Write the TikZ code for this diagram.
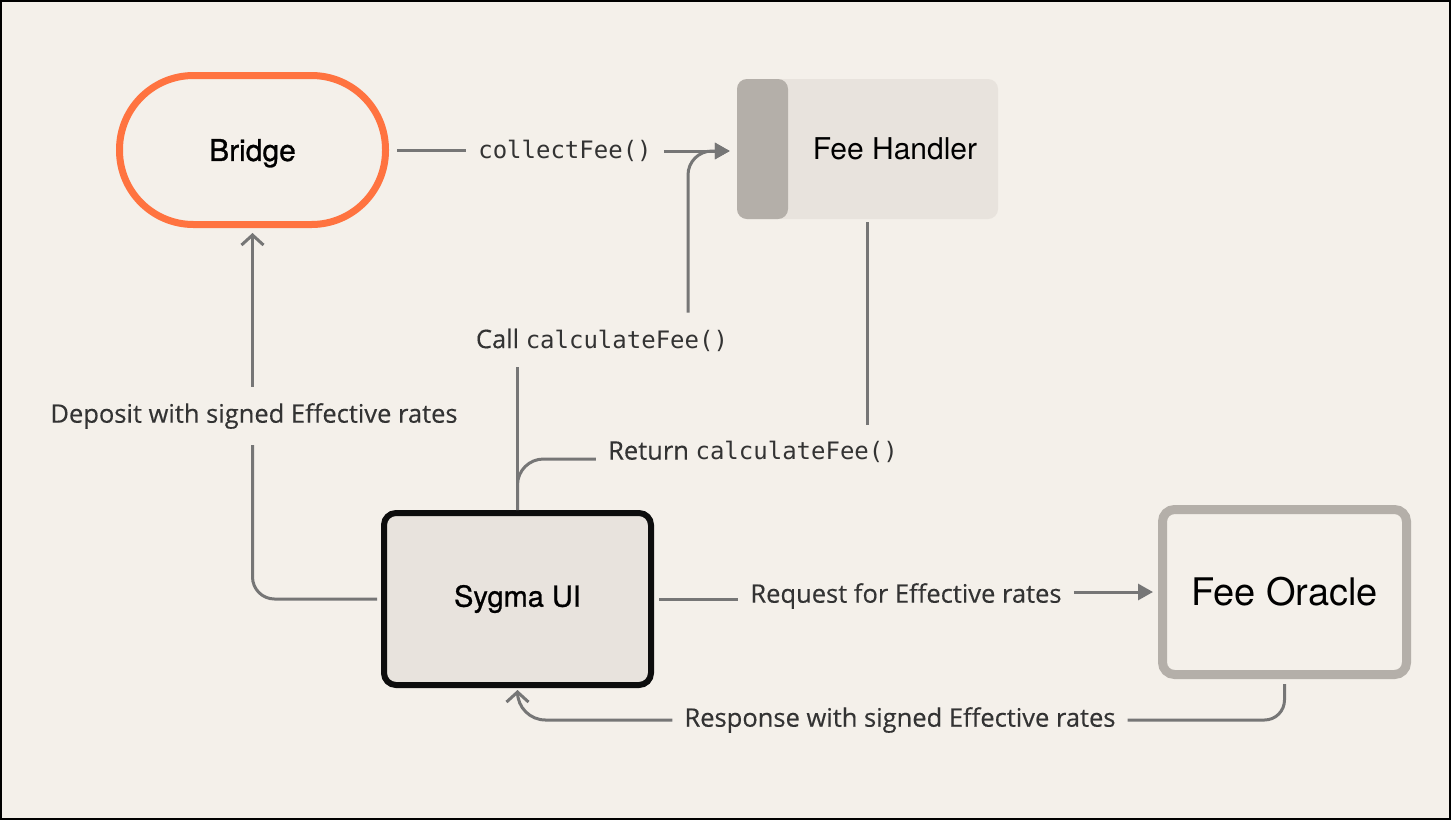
\documentclass[tikz,border=0pt]{standalone}
\usepackage{fontspec}
\setmainfont[FakeBold=0.35]{Open Sans}
\newfontfamily\nodefont{TeX Gyre Heros}
\newfontfamily\nodefontm[FakeBold=0.9]{TeX Gyre Heros}
\setmonofont{DejaVu Sans Mono}
\usetikzlibrary{arrows.meta,calc}
\definecolor{bgc}{HTML}{F4F0EA}
\definecolor{orangec}{HTML}{FF7340}
\definecolor{handc}{HTML}{E8E3DD}
\definecolor{bandc}{HTML}{B4AFA9}
\definecolor{linec}{HTML}{767676}
\definecolor{txtc}{HTML}{333333}
\newcommand\mycode[1]{{\ttfamily\fontsize{24}{28}\selectfont #1}}
\begin{document}
\begin{tikzpicture}[x=1pt,y=-1pt,
  conn/.style={draw=linec, line width=3pt},
  lbl/.style={font=\fontsize{25.5}{30}\selectfont, text=txtc, inner xsep=12pt, inner ysep=16pt},
  tri/.style={-{Triangle[length=15pt,width=16pt]}},
  barb/.style={-{Straight Barb[length=10pt,width=22pt]}},
  nfont/.style={font=\nodefont\fontsize{#1}{#1}\selectfont, text=black},
  mfont/.style={font=\nodefontm\fontsize{#1}{#1}\selectfont, text=black}
]
\useasboundingbox (0,0) rectangle (1451,820);
\fill[bgc] (0,0) rectangle (1451,820);
\draw[black, line width=2pt] (1,1) rectangle (1450,819);

% nodes
\node[draw=orangec, line width=7pt, rounded corners=74pt, minimum width=266pt, minimum height=149pt, mfont=30, text depth=0pt] (bridge) at (252.5,150) {Bridge};
\node[fill=handc, rounded corners=10pt, minimum width=261pt, minimum height=140pt, inner sep=0pt,
  path picture={\fill[bandc] (path picture bounding box.north west) rectangle ([xshift=51pt]path picture bounding box.south west);}] (fh) at (867.5,149) {};
\node[nfont=30] (fhtext) at (895,149) {Fee Handler};
\node[draw=black!95, line width=6pt, fill=handc, rounded corners=12pt, minimum width=267pt, minimum height=172pt, mfont=29] (sygma) at (517.5,599) {Sygma UI};
\node[draw=bandc, line width=9pt, fill=bgc, rounded corners=12pt, minimum width=244pt, minimum height=165pt, nfont=38] (oracle) at (1284.5,592) {Fee Oracle};

% labels
\node[lbl] (collect) at (565,151) {\mycode{collectFee()}};
\node[lbl] (call) at (602,340) {Call \mycode{calculateFee()}};
\node[lbl] (ret) at (753,452) {Return \mycode{calculateFee()}};
\node[lbl] (dep) at (254,416) {Deposit with signed Effective rates};
\node[lbl] (req) at (906,596) {Request for Effective rates};
\node[lbl] (resp) at (900,720) {Response with signed Effective rates};

\coordinate (callx) at (688,0);

% connectors
\draw[conn, shorten <=8pt] (bridge.east) -- (bridge.east -| collect.west);
\draw[conn, tri, shorten >=7pt] (collect.east) -- (collect.east -| fh.west);

\draw[conn] (sygma.north) -- (sygma.north |- call.south);
\draw[conn, tri, rounded corners=24pt, shorten >=7pt] (callx |- call.north) |- (collect.east -| fh.west);

\draw[conn, shorten <=3pt] (fh.south) -- (fh.south |- ret.north);
\draw[conn, rounded corners=26pt] ([yshift=-7pt]ret.west) -| (sygma.north);

\draw[conn, rounded corners=22pt, shorten <=4pt] (sygma.west) -| (dep.south -| bridge.south);
\draw[conn, barb, shorten >=5pt] (dep.north -| bridge.south) -- (bridge.south);

\draw[conn, shorten <=5pt] (sygma.east) -- (sygma.east -| req.west);
\draw[conn, tri, shorten >=5pt] (oracle.west -| req.east) -- (oracle.west);

\draw[conn, rounded corners=20pt, shorten <=5pt] (oracle.south) |- (resp.east);
\draw[conn, barb, rounded corners=28pt, shorten >=2pt] (resp.west) -| (sygma.south);
\end{tikzpicture}
\end{document}
